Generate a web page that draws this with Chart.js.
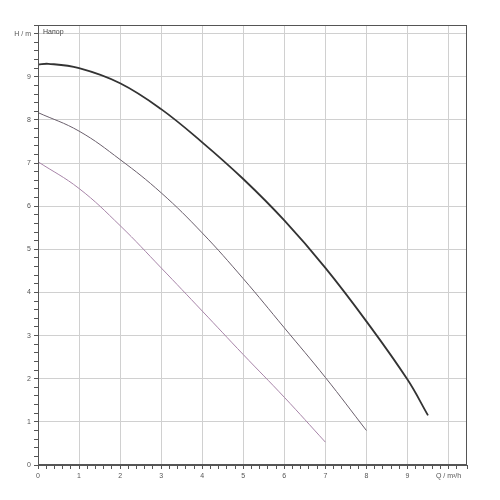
<!DOCTYPE html>
<html>
<head>
    <title>Напор</title>
    <script src="https://cdn.jsdelivr.net/npm/chart.js@4"></script>
    <style>
        body { margin: 0; background: #fff; }
        #wrap { width: 500px; height: 500px; }
    </style>
</head>
<body>
<div id="wrap"><canvas id="myChart"></canvas></div>

<script>
// flow Q, m3/h and head H, m for the three curves
var q1 = [0, 0.25, 1, 2, 3, 4, 5, 6, 7, 8, 9, 9.5];
var h1 = [9.28, 9.30, 9.20, 8.85, 8.25, 7.48, 6.63, 5.67, 4.57, 3.33, 1.98, 1.15];
var q2 = [0, 1, 2, 3, 4, 5, 6, 7, 8];
var h2 = [8.17, 7.74, 7.08, 6.31, 5.38, 4.32, 3.18, 2.03, 0.80];
var q3 = [0, 1, 2, 3, 4, 5, 6, 7];
var h3 = [7.03, 6.41, 5.55, 4.57, 3.57, 2.56, 1.57, 0.53];

var xTitle = 'Q / m³/h';
var yTitle = 'H / m';
var plotTitle = 'Напор';

function pts(xs, ys) {
    return xs.map(function (x, i) { return {x: x, y: ys[i]}; });
}
function isMajor(v) {
    return Math.abs(v - Math.round(v)) < 1e-6;
}

var frame = {
    id: 'frame',
    afterDraw: function (chart) {
        var a = chart.chartArea, c = chart.ctx;
        c.save();
        c.strokeStyle = '#555';
        c.lineWidth = 1;
        c.strokeRect(a.left + 0.5, a.top + 0.5, a.right - a.left - 1, a.bottom - a.top - 1);
        c.fillStyle = '#444';
        c.font = '7px "Liberation Sans", Arial, sans-serif';
        c.textBaseline = 'middle';
        c.fillText(plotTitle, a.left + 5, a.top + 7);
        c.restore();
    }
};

var ctx = document.getElementById('myChart').getContext('2d');
var myChart = new Chart(ctx, {
    type: 'line',
    data: {
        datasets: [{
            data: pts(q1, h1),
            borderColor: '#333333',
            borderWidth: 1.8
        }, {
            data: pts(q2, h2),
            borderColor: '#6a5f6c',
            borderWidth: 1
        }, {
            data: pts(q3, h3),
            borderColor: '#a784a8',
            borderWidth: 1
        }]
    },
    options: {
        responsive: true,
        maintainAspectRatio: false,
        animation: false,
        layout: { padding: { top: 25, right: 33, left: 0, bottom: 0 } },
        elements: {
            point: { radius: 0 },
            line: { tension: 0.4, fill: false }
        },
        plugins: { legend: { display: false }, tooltip: { enabled: false } },
        scales: {
            x: {
                type: 'linear',
                min: 0,
                max: 10.45,
                afterFit: function (s) { s.height = 35; },
                border: { color: '#555' },
                grid: {
                    color: function (c) { return isMajor(c.tick.value) ? '#d0d0d0' : 'rgba(0,0,0,0)'; },
                    tickColor: '#555',
                    tickLength: 4
                },
                ticks: {
                    stepSize: 0.2,
                    autoSkip: false,
                    maxRotation: 0,
                    maxTicksLimit: 100,
                    padding: 3,
                    color: '#555',
                    font: { size: 7, family: '"Liberation Sans", Arial, sans-serif' },
                    callback: function (v) {
                        if (!isMajor(v)) return '';
                        var r = Math.round(v);
                        return r === 10 ? xTitle : String(r);
                    }
                }
            },
            y: {
                min: 0,
                max: 10.2,
                afterFit: function (s) { s.width = 38; },
                border: { color: '#555' },
                grid: {
                    color: function (c) { return isMajor(c.tick.value) ? '#d0d0d0' : 'rgba(0,0,0,0)'; },
                    tickColor: '#555',
                    tickLength: 4
                },
                ticks: {
                    stepSize: 0.2,
                    autoSkip: false,
                    maxTicksLimit: 100,
                    padding: 3,
                    color: '#555',
                    font: { size: 7, family: '"Liberation Sans", Arial, sans-serif' },
                    callback: function (v) {
                        if (!isMajor(v)) return '';
                        var r = Math.round(v);
                        return r === 10 ? yTitle : String(r);
                    }
                }
            }
        }
    },
    plugins: [frame]
});
</script>
</body>
</html>
